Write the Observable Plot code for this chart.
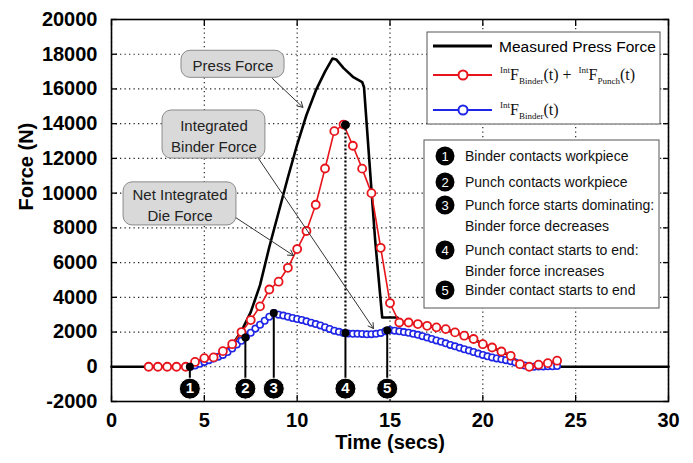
<!DOCTYPE html>
<html>
<head>
<meta charset="utf-8">
<script src="https://cdn.jsdelivr.net/npm/d3@7"></script>
<script src="https://cdn.jsdelivr.net/npm/@observablehq/plot@0.6"></script>
<style>
  html, body { margin: 0; padding: 0; background: #fff; }
  svg { display: block; }
</style>
</head>
<body>
<div id="chart"></div>
<script>
// ---- Data ----
const pressTime  = [0, 2, 4, 4.5, 5, 5.5, 6, 6.5, 7, 7.5, 8, 8.5, 9, 9.5, 10, 10.5, 11, 11.5, 11.9, 12.1, 12.5, 13, 13.5, 13.6, 14.0, 14.2, 14.58, 15.4, 15.5, 16, 16.5, 17, 17.5, 18, 18.5, 19, 19.5, 20, 20.5, 21, 21.5, 22, 22.5, 30];
const pressForce = [0, 0, 0, 250, 450, 550, 850, 1250, 2050, 3150, 4700, 6900, 8900, 10900, 12800, 14500, 15900, 17000, 17750, 17700, 17200, 16700, 16400, 16100, 10200, 7300, 2840, 2840, 2550, 2550, 2460, 2360, 2270, 2170, 1980, 1790, 1600, 1300, 1110, 880, 630, 150, 0, 0];

const redTime  = [2, 2.5, 3, 3.5, 4, 4.5, 5, 5.5, 6, 6.5, 7, 7.5, 8, 8.5, 9, 9.5, 10, 10.5, 11, 11.5, 12, 12.5, 13, 13.5, 14, 14.5, 15, 15.5, 16, 16.5, 17, 17.5, 18, 18.5, 19, 19.5, 20, 20.5, 21, 21.5, 22, 22.5, 23, 23.5, 24];
const redForce = [0, 0, 0, 0, 0, 280, 500, 540, 900, 1300, 2000, 2690, 3480, 4450, 4900, 5700, 6780, 7820, 9330, 11420, 13570, 13950, 12730, 11410, 10000, 6850, 3670, 2550, 2550, 2460, 2360, 2270, 2170, 1980, 1790, 1600, 1300, 1110, 880, 630, 150, 0, 120, 210, 350];

const blueTime  = [4.25, 4.5, 4.75, 5, 5.25, 5.5, 5.75, 6, 6.25, 6.5, 6.75, 7, 7.25, 7.5, 7.75, 8, 8.25, 8.5, 8.75, 9, 9.25, 9.5, 9.75, 10, 10.25, 10.5, 10.75, 11, 11.25, 11.5, 11.75, 12, 12.25, 12.5, 12.75, 13, 13.25, 13.5, 13.75, 14, 14.25, 14.5, 14.75, 15, 15.25, 15.5, 15.75, 16, 16.25, 16.5, 16.75, 17, 17.25, 17.5, 17.75, 18, 18.25, 18.5, 18.75, 19, 19.25, 19.5, 19.75, 20, 20.25, 20.5, 20.75, 21, 21.25, 21.5, 21.75, 22, 22.25, 22.5, 22.75, 23, 23.25, 23.5, 23.75, 24];
const blueForce = [0, 80, 170, 280, 380, 480, 580, 680, 850, 1050, 1280, 1500, 1730, 1960, 2200, 2420, 2650, 2880, 3090, 3000, 2950, 2880, 2810, 2750, 2700, 2620, 2540, 2460, 2380, 2280, 2180, 2080, 2010, 1950, 1920, 1900, 1900, 1890, 1870, 1880, 1900, 1950, 2050, 2120, 2080, 2040, 2000, 1960, 1900, 1840, 1760, 1680, 1600, 1520, 1440, 1350, 1260, 1180, 1090, 1010, 930, 850, 760, 680, 600, 540, 480, 430, 380, 320, 250, 160, 70, 0, 0, 10, 20, 30, 30, 40];

const eventNum   = [1, 2, 3, 4, 5];
const eventTime  = [4.22, 7.21, 8.74, 12.6, 14.85];
const eventForce = [0, 1690, 3090, 1940, 2110];
const eventLabel = ["Binder contacts workpiece", "Punch contacts workpiece", "Punch force starts dominating:\nBinder force decreases", "Punch contact starts to end:\nBinder force increases", "Binder contact starts to end"];
const peakTime = 12.6, peakForce = 13930;   // red-curve peak marked with event 4
const eventMarkerForce = -1260;              // level of the numbered badges

const calloutLabel = ["Press Force", "Integrated\nBinder Force", "Net Integrated\nDie Force"];
const calloutX1 = [3.77, 2.75, 0.65];
const calloutX2 = [9.32, 8.29, 6.73];
const calloutY1 = [16640, 11990, 8140];
const calloutY2 = [18200, 14760, 10620];
const pointerX1 = [8.67, 7.92, 6.68];
const pointerY1 = [16600, 11990, 8600];
const pointerX2 = [10.31, 14.11, 9.80];
const pointerY2 = [14940, 2200, 6410];

const xTicks = [0, 5, 10, 15, 20, 25, 30];
const yTicks = [-2000, 0, 2000, 4000, 6000, 8000, 10000, 12000, 14000, 16000, 18000, 20000];

const seriesNames = ["Measured Press Force", "Binder+Punch", "Binder"];
const seriesColors = ["#000000", "#e8141b", "#1f25e6"];

// ---- Build tables ----
const press = pressTime.map((t, i) => ({t, f: pressForce[i]}));
const red = redTime.map((t, i) => ({t, f: redForce[i]}));
const blue = blueTime.map((t, i) => ({t, f: blueForce[i]}));
const events = eventNum.map((n, i) => ({n, t: eventTime[i], f: eventForce[i], label: eventLabel[i]}));
const callouts = calloutLabel.map((label, i) => ({
  label, x1: calloutX1[i], x2: calloutX2[i], y1: calloutY1[i], y2: calloutY2[i],
  px1: pointerX1[i], py1: pointerY1[i], px2: pointerX2[i], py2: pointerY2[i]
}));

const SANS = "'Liberation Sans', Arial, Helvetica, sans-serif";
const gridDash = "1.3,3.2";

const chart = Plot.plot({
  width: 693,
  height: 463,
  marginLeft: 111,
  marginRight: 25,
  marginTop: 19,
  marginBottom: 62,
  style: {fontFamily: SANS, fontSize: "20px", background: "#fff", color: "#000"},
  x: {domain: [0, 30]},
  y: {domain: [-2000, 20000]},
  marks: [
    Plot.gridX(xTicks, {stroke: "#000", strokeOpacity: 0.85, strokeDasharray: gridDash, strokeWidth: 1.2}),
    Plot.gridY(yTicks, {stroke: "#000", strokeOpacity: 0.85, strokeDasharray: gridDash, strokeWidth: 1.2}),
    // tick labels
    Plot.axisX(xTicks, {tickSize: 0, tickPadding: 11, tickFormat: d => String(d), label: null, fontWeight: "bold"}),
    Plot.axisY(yTicks, {tickSize: 0, tickPadding: 14, tickFormat: d => String(d), label: null, fontWeight: "bold"}),
    // inward ticks on all sides
    Plot.axisX(xTicks, {anchor: "bottom", tickSize: -6, tickFormat: () => "", label: null, strokeWidth: 1.3}),
    Plot.axisX(xTicks, {anchor: "top", tickSize: -6, tickFormat: () => "", label: null, strokeWidth: 1.3}),
    Plot.axisY(yTicks, {anchor: "left", tickSize: -6, tickFormat: () => "", label: null, strokeWidth: 1.3}),
    Plot.axisY(yTicks, {anchor: "right", tickSize: -6, tickFormat: () => "", label: null, strokeWidth: 1.3}),
    // axis titles
    Plot.text(["Time (secs)"], {frameAnchor: "bottom", dy: 47, fontWeight: "bold", fontSize: 20}),
    Plot.text(["Force (N)"], {frameAnchor: "left", dx: -85, rotate: -90, fontWeight: "bold", fontSize: 20}),
    // series
    Plot.line(press, {x: "t", y: "f", stroke: seriesColors[0], strokeWidth: 2.6}),
    Plot.line(blue, {x: "t", y: "f", stroke: seriesColors[2], strokeWidth: 1.5}),
    Plot.dot(blue, {x: "t", y: "f", r: 3.2, stroke: seriesColors[2], strokeWidth: 1.6, fill: "#fff"}),
    Plot.line(red, {x: "t", y: "f", stroke: seriesColors[1], strokeWidth: 1.6}),
    Plot.dot(red, {x: "t", y: "f", r: 4, stroke: seriesColors[1], strokeWidth: 1.8, fill: "#fff"}),
    // event connectors
    Plot.ruleX(events, {x: "t", y1: "f", y2: eventMarkerForce, stroke: "#000", strokeWidth: 2}),
    Plot.ruleX([peakTime], {x: d => d, y1: peakForce, y2: eventForce[3], stroke: "#000", strokeWidth: 2.2, strokeDasharray: "2,2"}),
    Plot.dot(events, {x: "t", y: "f", r: 4, fill: "#000"}),
    Plot.dot([peakTime], {x: d => d, y: peakForce, r: 4.5, fill: "#000"}),
    Plot.dot(events, {x: "t", y: eventMarkerForce, r: 10.5, fill: "#000", stroke: "#fff", strokeWidth: 1}),
    Plot.text(events, {x: "t", y: eventMarkerForce, text: d => String(d.n), fill: "#fff", fontSize: 15, fontWeight: "bold"}),
    // callouts
    Plot.arrow(callouts, {x1: "px1", y1: "py1", x2: "px2", y2: "py2", stroke: "#333", strokeWidth: 1, headLength: 9}),
    Plot.rect(callouts, {x1: "x1", x2: "x2", y1: "y1", y2: "y2", rx: 9, fill: "#d9d9d9", stroke: "#8a8a8a", strokeWidth: 1}),
    Plot.text(callouts, {x: d => (d.x1 + d.x2) / 2, y: d => (d.y1 + d.y2) / 2, text: "label", fontSize: 15, lineHeight: 1.4, fill: "#222"}),
    Plot.frame({stroke: "#000", strokeWidth: 1.6})
  ]
});

// ---- Legends (overlay inside the plot area) ----
const svg = d3.select(chart);
const lg = svg.append("g").attr("class", "legend1").attr("text-anchor", "start");
lg.append("rect").attr("x", 427).attr("y", 32).attr("width", 233).attr("height", 92)
  .attr("fill", "#fff").attr("stroke", "#555").attr("stroke-width", 1);
const rowsY = [46, 75, 110];
[0, 1, 2].forEach(i => {
  lg.append("line").attr("x1", 433).attr("x2", 492).attr("y1", rowsY[i]).attr("y2", rowsY[i])
    .attr("stroke", seriesColors[i]).attr("stroke-width", i === 0 ? 3 : 2);
  if (i > 0) lg.append("circle").attr("cx", 463).attr("cy", rowsY[i]).attr("r", 4.5)
    .attr("fill", "#fff").attr("stroke", seriesColors[i]).attr("stroke-width", 2);
});
lg.append("text").attr("x", 499).attr("y", rowsY[0]).attr("dominant-baseline", "central")
  .attr("text-anchor", "start")
  .attr("font-family", SANS).attr("font-size", 15.5).text(seriesNames[0]);

function intF(sel, x, y, parts) {
  const t = sel.append("text").attr("x", x).attr("y", y + 5).attr("text-anchor", "start")
    .attr("font-family", "'Liberation Serif', 'Times New Roman', serif").attr("font-size", 16).attr("fill", "#111");
  parts.forEach(([sub, tail], k) => {
    t.append("tspan").attr("font-size", 9).attr("dy", -7).attr("dx", k ? 3 : 0).text("Int");
    t.append("tspan").attr("font-size", 16).attr("dy", 7).text("F");
    t.append("tspan").attr("font-size", 9).attr("dy", 4).text(sub);
    t.append("tspan").attr("font-size", 16).attr("dy", -4).text(tail);
  });
}
intF(lg, 500, rowsY[1], [["Binder", "(t) + "], ["Punch", "(t)"]]);
intF(lg, 500, rowsY[2], [["Binder", "(t)"]]);

const lg2 = svg.append("g").attr("class", "legend2").attr("text-anchor", "start");
lg2.append("rect").attr("x", 424).attr("y", 140).attr("width", 235).attr("height", 168)
  .attr("fill", "#fff").attr("stroke", "#555").attr("stroke-width", 1);
const badgeY = [156, 182, 205, 250, 290];
const lineYs = [[156], [182], [205, 226], [250, 271], [290]];
events.forEach((e, i) => {
  lg2.append("circle").attr("cx", 445).attr("cy", badgeY[i]).attr("r", 9.5).attr("fill", "#000");
  lg2.append("text").attr("x", 445).attr("y", badgeY[i]).attr("text-anchor", "middle")
    .attr("dominant-baseline", "central").attr("fill", "#fff").attr("font-size", 13)
    .attr("font-family", SANS).text(e.n);
  e.label.split("\n").forEach((s, k) => {
    lg2.append("text").attr("x", 465).attr("y", lineYs[i][k]).attr("dominant-baseline", "central")
      .attr("text-anchor", "start")
      .attr("font-family", SANS).attr("font-size", 14).attr("fill", "#111").text(s);
  });
});

document.getElementById("chart").appendChild(chart);
</script>
</body>
</html>
